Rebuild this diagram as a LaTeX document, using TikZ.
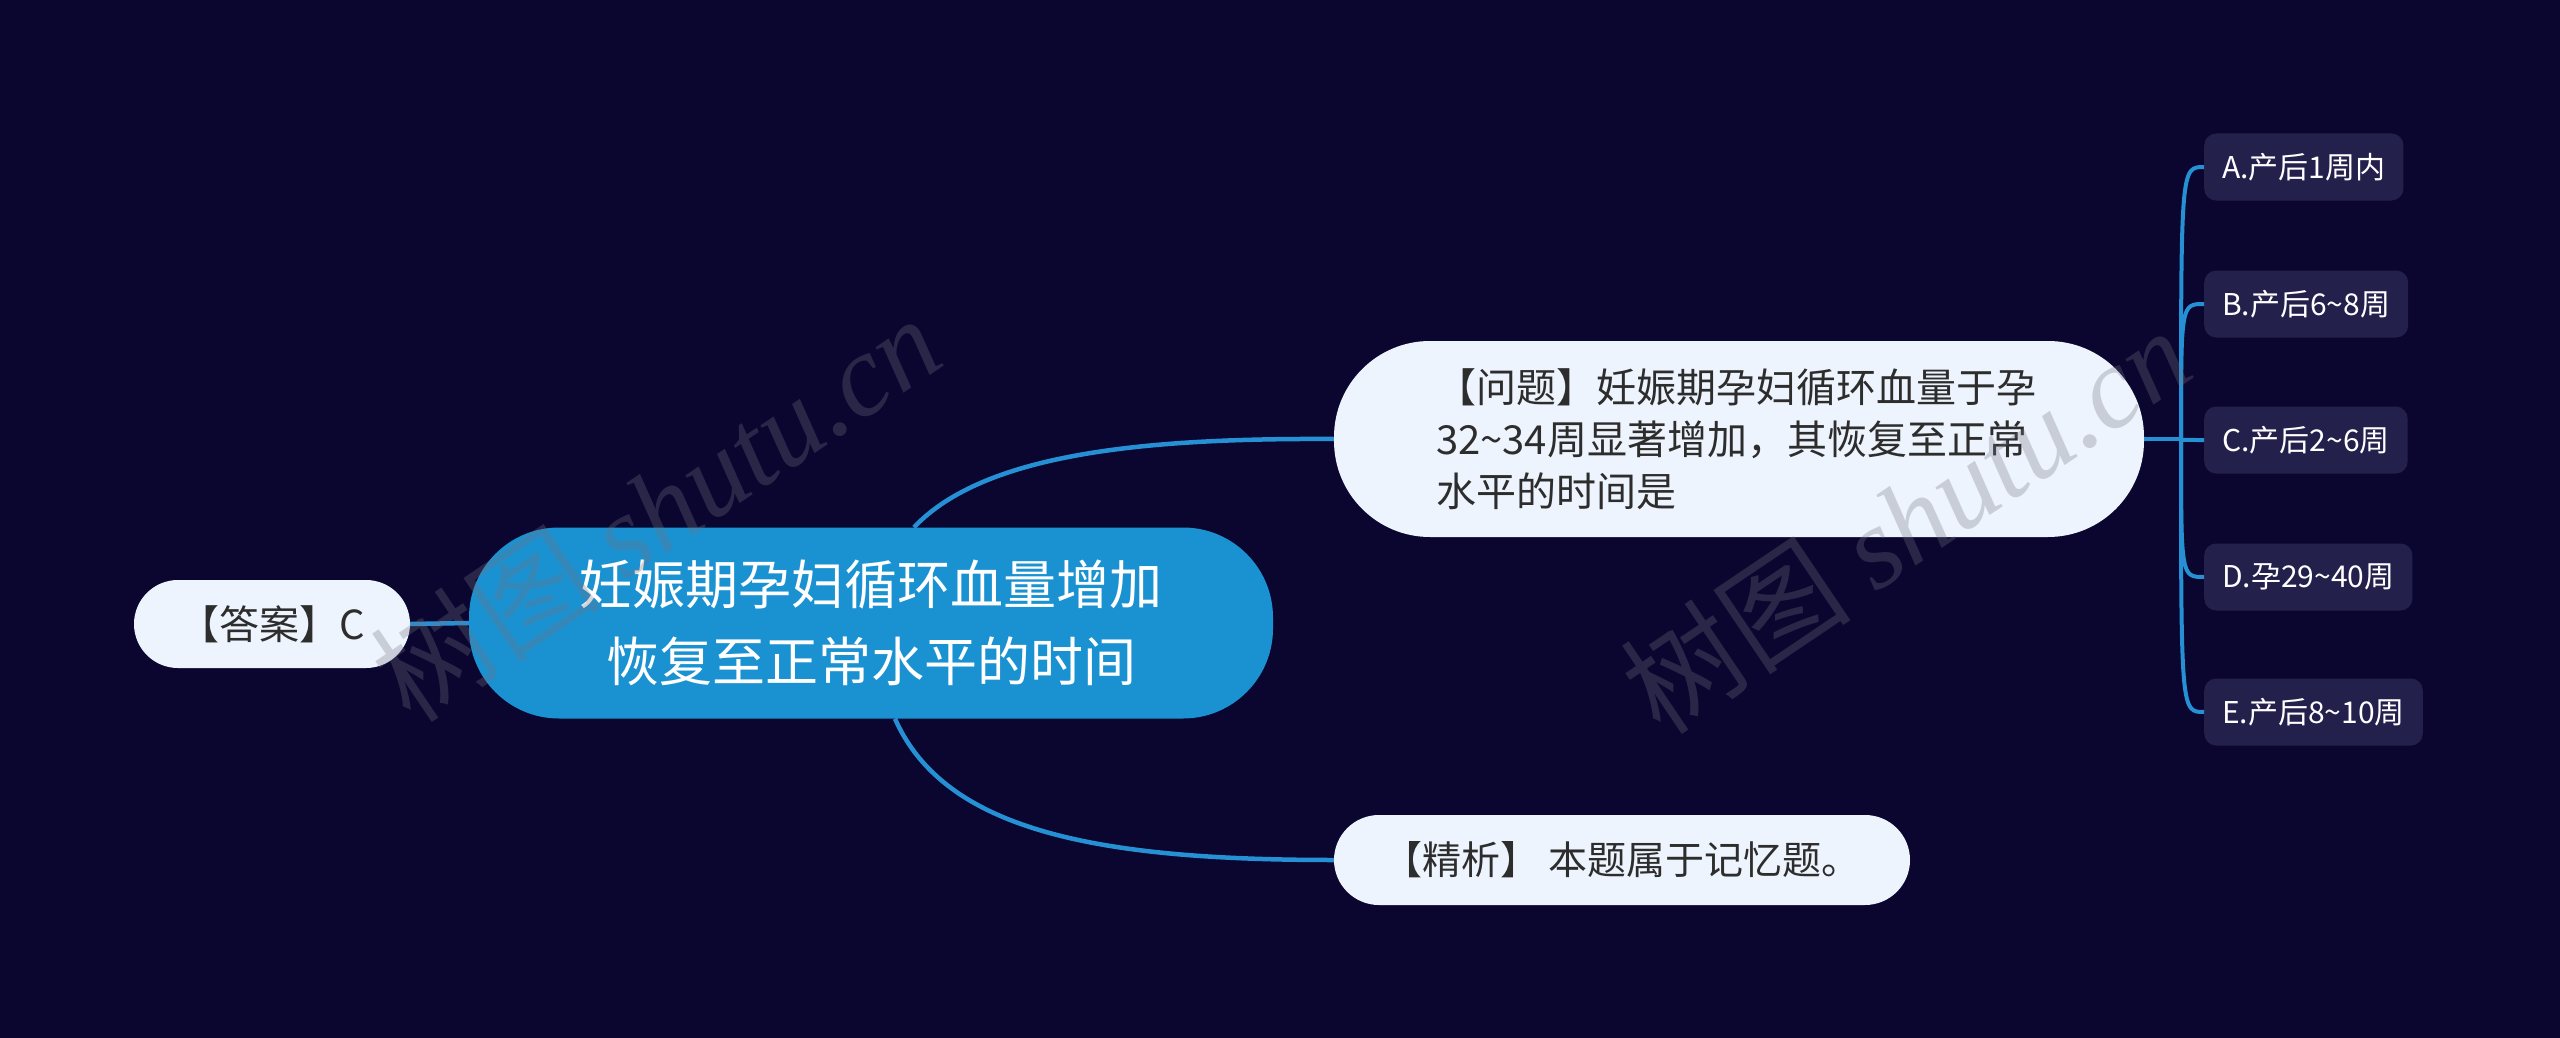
\documentclass[tikz,border=0pt]{standalone}
\usepackage{fontspec}
\setmainfont{Noto Sans CJK SC}
\newfontfamily\cjkfont{Noto Sans CJK SC}
\newfontfamily\wmlatin{Liberation Serif}
\usetikzlibrary{calc}
\definecolor{bgc}{RGB}{11,6,48}
\definecolor{ctrfill}{RGB}{26,146,210}
\definecolor{lightfill}{RGB}{238,244,253}
\definecolor{optfill}{RGB}{36,32,76}
\definecolor{edgec}{RGB}{38,144,212}
\definecolor{darktext}{RGB}{45,45,45}
\definecolor{wmc}{RGB}{115,115,130}
\tikzset{
  edge/.style={draw=edgec, line width=4.5pt},
  ctrbox/.style={fill=ctrfill, text=white, rounded corners=90pt, minimum width=804pt, minimum height=191pt, align=center, font=\fontsize{53pt}{77pt}\selectfont, inner sep=0pt},
  lightbox/.style={fill=lightfill, text=darktext, inner sep=0pt},
  optbox/.style={fill=optfill, text=white, rounded corners=12pt, minimum height=67pt, inner xsep=18pt, inner ysep=0pt, anchor=west, font=\fontsize{30pt}{36pt}\selectfont},
  wm/.style={text=wmc, text opacity=0.3, font=\fontsize{116pt}{120pt}\selectfont}
}
\begin{document}
\begin{tikzpicture}[x=1pt, y=-1pt]
\useasboundingbox (0,0) rectangle (2560,1038);
\fill[bgc] (0,0) rectangle (2560,1038);

% nodes
\node[ctrbox] (ctr) at (871,623) {妊娠期孕妇循环血量增加\\恢复至正常水平的时间};
\node[lightbox, rounded corners=44pt, minimum width=276pt, minimum height=88pt, font=\fontsize{40pt}{48pt}\selectfont] (ans) at (272,624) {【答案】C};
\node[lightbox, rounded corners=96pt, minimum width=810pt, minimum height=196pt, text width=606pt, align=left, font=\fontsize{40pt}{52pt}\selectfont] (q) at (1739,439) {【问题】妊娠期孕妇循环血量于孕\\32\textasciitilde 34周显著增加，其恢复至正常\\水平的时间是};
\node[lightbox, rounded corners=45pt, minimum width=576pt, minimum height=90pt, font=\fontsize{39pt}{48pt}\selectfont] (an) at (1622,860) {【精析】 本题属于记忆题。};

\node[optbox] (oa) at (2204,167) {A.产后1周内};
\node[optbox] (ob) at (2204,304) {B.产后6\textasciitilde 8周};
\node[optbox] (oc) at (2204,440) {C.产后2\textasciitilde 6周};
\node[optbox] (od) at (2204,577) {D.孕29\textasciitilde 40周};
\node[optbox] (oe) at (2204,712) {E.产后8\textasciitilde 10周};

% connectors
\draw[edge] (ans.east) -- (ctr.west);
\draw[edge] ([xshift=43pt]ctr.north) .. controls (985,452) and (1150,438) .. (q.west);
\draw[edge] ([xshift=24pt]ctr.south) .. controls (945,832) and (1100,860) .. (an.west);
\coordinate (tr) at (2181,439);
\draw[edge] (q.east) -- (tr);
\foreach \o in {oa,ob,oc,od,oe}{
  \draw[edge, line width=4pt] (tr) .. controls (tr |- \o.west) .. (\o.west);
}

% watermarks
\node[wm, rotate=34] (wm1) at (655,508) {\cjkfont 树图 \wmlatin\itshape shutu.cn};
\node[wm, rotate=34] (wm2) at (1905,520) {\cjkfont 树图 \wmlatin\itshape shutu.cn};
\end{tikzpicture}
\end{document}
